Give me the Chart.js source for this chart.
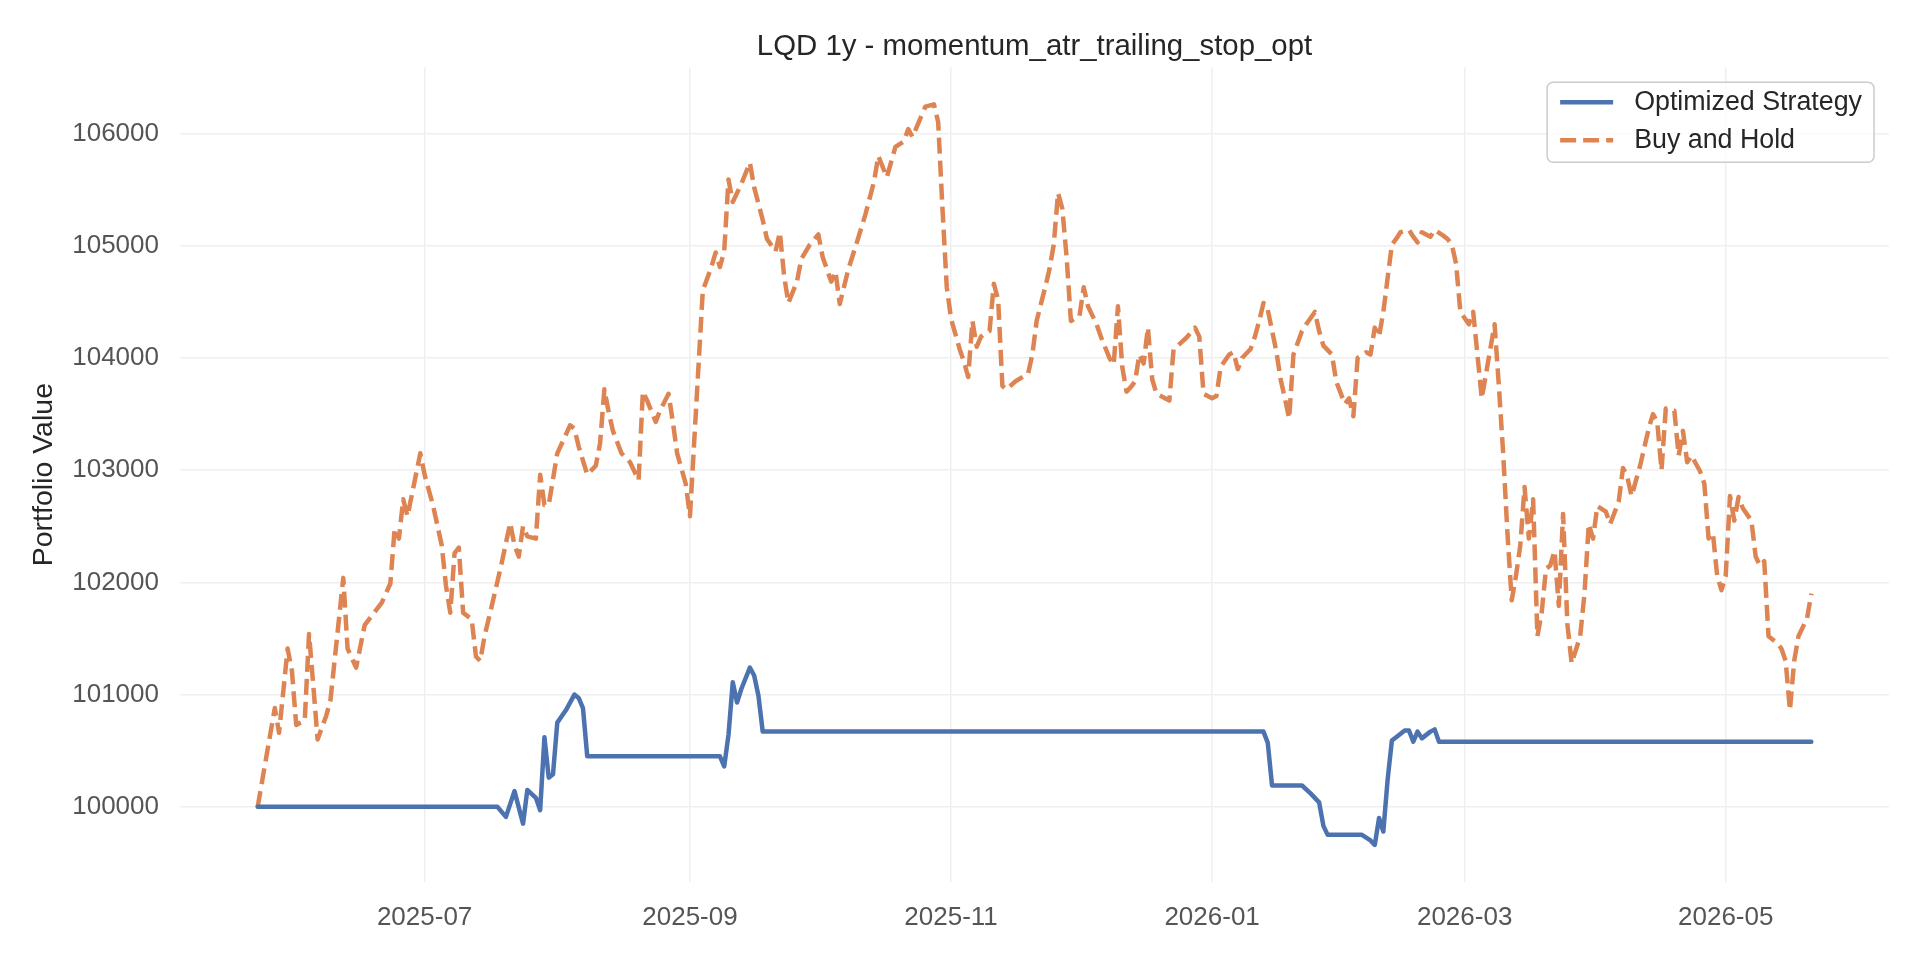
<!DOCTYPE html>
<html lang="en">
<head>
    <meta charset="UTF-8">
    <title>LQD 1y - momentum_atr_trailing_stop_opt</title>
    <style>
        body {
            margin: 0;
            padding: 0;
            background-color: #ffffff;
        }
        #wrap {
            width: 1920px;
            height: 960px;
            position: relative;
        }
    </style>
</head>
<body>
    <div id="wrap">
        <canvas id="equityChart"></canvas>
    </div>

    <script src="https://cdn.jsdelivr.net/npm/chart.js"></script>
    <script>
        // Calendar days counted from the first date of the backtest
        const startDate = '2025-05-23';

        // Buy and Hold
        const holdDays = [
            0, 4, 5, 7, 8, 9, 11, 12, 13, 14, 16, 17, 20, 21, 23, 25, 29, 31, 32, 33,
            34, 35, 38, 39, 41, 43, 44, 45, 46, 47, 48, 49, 50, 51, 52, 53, 55, 57, 59, 60,
            61, 62, 63, 65, 66, 67, 68, 70, 73, 74, 75, 77, 79, 80, 81, 82, 83, 85, 87, 89,
            90, 91, 93, 94, 96, 97, 98, 100, 101, 104, 106, 107, 108, 109, 110, 111, 113, 115, 116, 118,
            119, 121, 122, 123, 124, 126, 127, 129, 131, 132, 134, 135, 136, 138, 140, 142, 144, 145, 147, 149,
            151, 152, 153, 155, 156, 158, 159, 160, 161, 162, 164, 165, 166, 167, 168, 169, 170, 171, 172, 173,
            174, 175, 177, 180, 181, 182, 184, 185, 186, 187, 188, 189, 190, 192, 193, 194, 196, 197, 199, 200,
            201, 202, 203, 204, 205, 206, 207, 208, 209, 210, 212, 213, 214, 215, 217, 219, 220, 221, 223, 224,
            225, 227, 228, 229, 230, 232, 233, 234, 235, 236, 238, 239, 240, 241, 242, 244, 245, 247, 248, 249,
            251, 252, 254, 255, 256, 257, 259, 260, 261, 262, 263, 265, 266, 267, 269, 270, 271, 272, 274, 275,
            277, 278, 279, 280, 281, 283, 284, 286, 287, 288, 289, 290, 291, 292, 293, 294, 295, 296, 297, 298,
            299, 300, 301, 302, 303, 304, 305, 306, 307, 309, 310, 311, 312, 313, 315, 316, 318, 319, 320, 321,
            323, 325, 326, 327, 328, 329, 331, 332, 333, 334, 335, 337, 338, 339, 340, 341, 342, 343, 344, 345,
            346, 347, 349, 350, 351, 352, 353, 355, 356, 357, 358, 359, 360, 362, 363
        ];
        const holdValues = [
            100000, 100880, 100660, 101410, 101210, 100730, 100770, 101540, 101080, 100600, 100810, 100950, 102040, 101410, 101240, 101620, 101820, 101990, 102480, 102390,
            102740, 102590, 103150, 102960, 102680, 102330, 101970, 101730, 102260, 102310, 101730, 101700, 101670, 101340, 101300, 101520, 101840, 102170, 102530, 102330,
            102230, 102500, 102410, 102390, 102960, 102690, 102690, 103150, 103400, 103370, 103210, 102960, 103040, 103240, 103720, 103520, 103350, 103150, 103070, 102910,
            103700, 103620, 103430, 103530, 103680, 103430, 103150, 102880, 102590, 104600, 104810, 104940, 104810, 104950, 105590, 105390, 105550, 105740, 105520, 105230,
            105060, 104950, 105120, 104730, 104490, 104680, 104880, 105010, 105100, 104900, 104680, 104770, 104480, 104790, 105030, 105280, 105570, 105800, 105610, 105880,
            105930, 106040, 105970, 106150, 106240, 106260, 106100, 105330, 104630, 104350, 104080, 103970, 103830, 104330, 104100, 104190, 104220, 104240, 104660, 104520,
            103750, 103720, 103790, 103860, 104030, 104330, 104630, 104790, 105010, 105470, 105330, 104900, 104330, 104370, 104630, 104460, 104300, 104190, 104000, 103940,
            104460, 103920, 103700, 103740, 103790, 104030, 103950, 104270, 103810, 103680, 103640, 103620, 104080, 104110, 104180, 104270, 104190, 103680, 103640, 103660,
            103920, 104030, 104050, 103900, 104000, 104080, 104190, 104330, 104490, 104430, 104060, 103810, 103640, 103460, 104030, 104240, 104300, 104410, 104240, 104110,
            104030, 103790, 103590, 103640, 103480, 104000, 104050, 104030, 104270, 104190, 104410, 105010, 105060, 105120, 105140, 105080, 105030, 105120, 105080, 105140,
            105090, 105060, 105010, 104840, 104410, 104300, 104410, 103640, 103860, 104080, 104300, 103750, 103150, 102440, 101840, 102060, 102330, 102850, 102390, 102740,
            101520, 101730, 102120, 102150, 102280, 101790, 102610, 101630, 101280, 101520, 101900, 102520, 102390, 102680, 102630, 102520, 102720, 103020, 102940, 102770,
            103040, 103370, 103500, 103430, 103000, 103550, 103530, 103130, 103350, 103070, 103130, 102990, 102880, 102390, 102440, 102060, 101930, 102060, 102770, 102550,
            102760, 102660, 102550, 102230, 102150, 102190, 101520, 101460, 101410, 101300, 100860, 101300, 101520, 101680, 101900
        ];

        // Optimized Strategy
        const stratDays = [
            0, 56, 58, 60, 62, 63, 65, 66, 67, 68, 69, 70, 72, 74, 75, 76, 77, 108, 109, 110,
            111, 112, 113, 115, 116, 117, 118, 235, 236, 237, 244, 246, 248, 249, 250, 258, 260, 261, 262, 263,
            264, 265, 266, 268, 269, 270, 271, 272, 274, 275, 276, 363
        ];
        const stratValues = [
            100000, 100000, 99910, 100140, 99850, 100150, 100080, 99970, 100620, 100260, 100290, 100750, 100860, 101000, 100970, 100880, 100450, 100450, 100360, 100640,
            101110, 100930, 101050, 101240, 101170, 100990, 100670, 100670, 100570, 100190, 100190, 100120, 100040, 99830, 99750, 99750, 99700, 99660, 99900, 99780,
            100240, 100590, 100620, 100680, 100680, 100580, 100670, 100610, 100670, 100690, 100580, 100580
        ];

        const xTickDates = ['2025-07-01', '2025-09-01', '2025-11-01', '2026-01-01', '2026-03-01', '2026-05-01'];
        const xTickLabels = ['2025-07', '2025-09', '2025-11', '2026-01', '2026-03', '2026-05'];
        const yTicks = [100000, 101000, 102000, 103000, 104000, 105000, 106000];

        const FONT = '"Liberation Sans", Arial, sans-serif';
        const TEXT = '#262626';
        const TICK = '#555555';
        const GRID = '#efefef';

        function dayOf(d) {
            return (Date.parse(d) - Date.parse(startDate)) / 86400000;
        }
        const xTickDays = xTickDates.map(dayOf);

        // matplotlib style 5% margins
        const lastDay = holdDays[holdDays.length - 1];
        const xMin = -lastDay * 0.05, xMax = lastDay * 1.05;
        const allVals = holdValues.concat(stratValues);
        const vMin = Math.min(...allVals), vMax = Math.max(...allVals);
        const yMin = vMin - (vMax - vMin) * 0.05, yMax = vMax + (vMax - vMin) * 0.05;

        // legend drawn as a framed box in the upper right corner
        const legendBox = {
            id: 'legendBox',
            afterDraw(chart) {
                const { ctx, chartArea } = chart;
                const sets = chart.data.datasets;
                ctx.save();
                ctx.font = '26.8px ' + FONT;
                const textW = Math.max(...sets.map(s => ctx.measureText(s.label).width));
                const w = 13 + 53 + 21 + textW + 12, h = 80, r = 6;
                const x = chartArea.right - 15 - w, y = chartArea.top + 15;
                ctx.beginPath();
                ctx.moveTo(x + r, y);
                ctx.arcTo(x + w, y, x + w, y + h, r);
                ctx.arcTo(x + w, y + h, x, y + h, r);
                ctx.arcTo(x, y + h, x, y, r);
                ctx.arcTo(x, y, x + w, y, r);
                ctx.closePath();
                ctx.fillStyle = 'rgba(255,255,255,0.8)';
                ctx.fill();
                ctx.strokeStyle = '#cccccc';
                ctx.lineWidth = 1.5;
                ctx.stroke();
                sets.forEach((s, i) => {
                    const cy = y + 20 + i * 38;
                    ctx.beginPath();
                    ctx.setLineDash(s.borderDash || []);
                    ctx.strokeStyle = s.borderColor;
                    ctx.lineWidth = s.borderWidth;
                    ctx.moveTo(x + 13, cy);
                    ctx.lineTo(x + 66, cy);
                    ctx.stroke();
                    ctx.setLineDash([]);
                    ctx.fillStyle = TEXT;
                    ctx.textBaseline = 'middle';
                    ctx.textAlign = 'left';
                    ctx.fillText(s.label, x + 87, cy);
                });
                ctx.restore();
            }
        };

        const ctx = document.getElementById('equityChart').getContext('2d');
        new Chart(ctx, {
            type: 'line',
            data: {
                datasets: [{
                    label: 'Optimized Strategy',
                    data: stratDays.map((d, i) => ({ x: d, y: stratValues[i] })),
                    borderColor: '#4c72b0',
                    borderWidth: 4.5,
                    pointRadius: 0,
                    tension: 0,
                    borderJoinStyle: 'round',
                    borderCapStyle: 'round'
                }, {
                    label: 'Buy and Hold',
                    data: holdDays.map((d, i) => ({ x: d, y: holdValues[i] })),
                    borderColor: '#dd8452',
                    borderWidth: 4.5,
                    borderDash: [16, 7],
                    pointRadius: 0,
                    tension: 0,
                    borderJoinStyle: 'round'
                }]
            },
            options: {
                responsive: true,
                maintainAspectRatio: false,
                animation: false,
                devicePixelRatio: 1,
                layout: { padding: { left: 0, right: 31, top: 0, bottom: 0 } },
                plugins: {
                    legend: { display: false },
                    tooltip: { enabled: false },
                    title: {
                        display: true,
                        fullSize: false,
                        text: 'LQD 1y - momentum_atr_trailing_stop_opt',
                        color: TEXT,
                        font: { family: FONT, size: 29.4, weight: 'normal' },
                        padding: { top: 29, bottom: 3 }
                    }
                },
                scales: {
                    x: {
                        type: 'linear',
                        min: xMin,
                        max: xMax,
                        border: { display: false },
                        grid: { color: GRID, lineWidth: 1.5, drawTicks: false },
                        ticks: {
                            color: TICK,
                            font: { family: FONT, size: 26 },
                            padding: 20,
                            maxRotation: 0,
                            autoSkip: false,
                            callback: v => xTickLabels[xTickDays.indexOf(v)]
                        },
                        afterBuildTicks: s => { s.ticks = xTickDays.map(v => ({ value: v })); },
                        afterFit: s => { s.height = 78; }
                    },
                    y: {
                        min: yMin,
                        max: yMax,
                        border: { display: false },
                        grid: { color: GRID, lineWidth: 1.5, drawTicks: false },
                        ticks: {
                            color: TICK,
                            font: { family: FONT, size: 26 },
                            padding: 21,
                            callback: v => String(v)
                        },
                        title: {
                            display: true,
                            text: 'Portfolio Value',
                            color: TEXT,
                            font: { family: FONT, size: 28.5 },
                            padding: { top: 27, bottom: 0 }
                        },
                        afterBuildTicks: s => { s.ticks = yTicks.map(v => ({ value: v })); },
                        afterFit: s => { s.width = 180; }
                    }
                }
            },
            plugins: [legendBox]
        });
    </script>
</body>
</html>
